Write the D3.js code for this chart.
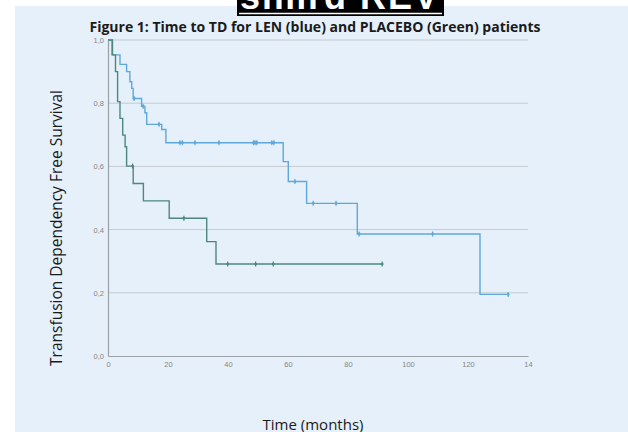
<!DOCTYPE html>
<html>
<head>
<meta charset="utf-8">
<script src="https://cdn.jsdelivr.net/npm/d3@7"></script>
<style>
    body { margin: 0; background: #fff; }
    svg { display: block; }
</style>
</head>
<body>
<div id="km_container"></div>
<script>
// LEN (blue) arm: event times (months) and survival after each step
var lenTimes = [0, 1.3, 4.0, 6.2, 7.3, 7.9, 8.4, 11.2, 12.3, 12.9, 17.9, 19.3, 58.4, 60.1, 66.2, 83.1, 124.0];
var lenSurvival = [1.0, 0.953, 0.923, 0.90, 0.868, 0.847, 0.815, 0.79, 0.77, 0.733, 0.717, 0.675, 0.615, 0.552, 0.483, 0.386, 0.195];
var lenCensored = [8.7, 11.7, 17.0, 24.0, 24.8, 29.0, 37.0, 48.5, 49.0, 49.6, 54.6, 55.3, 62.3, 68.4, 76.0, 83.7, 108.2, 133.4];

// PLACEBO (green) arm
var placeboTimes = [0, 1.5, 2.5, 3.2, 4.0, 4.9, 5.7, 6.2, 8.4, 11.8, 20.4, 32.9, 36.0];
var placeboSurvival = [1.0, 0.953, 0.90, 0.805, 0.752, 0.699, 0.662, 0.601, 0.546, 0.491, 0.436, 0.362, 0.291];
var placeboCensored = [8.2, 25.3, 39.9, 49.2, 55.1, 91.4];

var xTicks = [0, 20, 40, 60, 80, 100, 120, 140];
var yTicks = [0, 0.2, 0.4, 0.6, 0.8, 1.0];

function draw_km_chart() {
    var width = 628, height = 432;
    var plot = {left: 108, right: 528, top: 40, bottom: 356};

    var x = d3.scaleLinear().domain([0, 140]).range([plot.left, plot.right]);
    var y = d3.scaleLinear().domain([0, 1]).range([plot.bottom, plot.top]);

    var svg = d3.select("#km_container").append("svg")
        .attr("width", width)
        .attr("height", height);

    // pale blue panel behind everything
    svg.append("rect")
        .attr("x", 15).attr("y", 6)
        .attr("width", width - 15).attr("height", height - 6)
        .attr("fill", "#e5f0fa");

    // stamp at the top, cut off by the edge
    svg.append("rect")
        .attr("x", 237).attr("y", 0)
        .attr("width", 207).attr("height", 16)
        .attr("fill", "#000");
    svg.append("text")
        .attr("x", 340).attr("y", 9)
        .attr("text-anchor", "middle")
        .attr("font-family", "Liberation Sans, Arial, sans-serif")
        .attr("font-weight", "bold")
        .attr("font-size", 36)
        .attr("letter-spacing", 2)
        .attr("fill", "#fff")
        .text("simrd REV");
    svg.append("line")
        .attr("x1", 239).attr("x2", 442)
        .attr("y1", 13.5).attr("y2", 13.5)
        .attr("stroke", "#fff").attr("stroke-width", 1.5);

    svg.append("text")
        .attr("x", 315).attr("y", 32)
        .attr("text-anchor", "middle")
        .attr("font-family", "Open Sans, sans-serif")
        .attr("font-weight", "bold")
        .attr("font-size", 14)
        .attr("fill", "#1a1a1a")
        .text("Figure 1: Time to TD for LEN (blue) and PLACEBO (Green) patients");

    // horizontal grid lines
    svg.append("g")
        .selectAll("line")
        .data(yTicks.filter(function (d) { return d > 0; }))
        .enter().append("line")
        .attr("x1", plot.left).attr("x2", plot.right)
        .attr("y1", function (d) { return y(d); })
        .attr("y2", function (d) { return y(d); })
        .attr("stroke", "#c6cacd")
        .attr("stroke-width", 1);

    var yAxis = svg.append("g")
        .attr("transform", "translate(" + plot.left + ",0)")
        .call(d3.axisLeft(y).tickValues(yTicks).tickSize(0).tickPadding(4)
            .tickFormat(function (d) { return d3.format(".1f")(d).replace(".", ","); }));
    var xAxis = svg.append("g")
        .attr("transform", "translate(0," + plot.bottom + ")")
        .call(d3.axisBottom(x).tickValues(xTicks).tickSize(0).tickPadding(6)
            .tickFormat(function (d) { return d === 140 ? "14" : d; }));

    [xAxis, yAxis].forEach(function (ax) {
        ax.select(".domain").attr("stroke", "#9ca1a5").attr("stroke-width", 1.2);
        ax.selectAll("text")
            .attr("font-family", "Liberation Sans, Arial, sans-serif")
            .attr("font-size", 7.5)
            .attr("fill", "#858585");
    });

    svg.append("text")
        .attr("transform", "translate(62,228) rotate(-90)")
        .attr("text-anchor", "middle")
        .attr("font-family", "Open Sans, sans-serif")
        .attr("font-size", 15.5)
        .attr("fill", "#1a1a1a")
        .text("Transfusion Dependency Free Survival");

    svg.append("text")
        .attr("x", 313).attr("y", 430)
        .attr("text-anchor", "middle")
        .attr("font-family", "Open Sans, sans-serif")
        .attr("font-size", 15)
        .attr("fill", "#1a1a1a")
        .text("Time (months)");

    plotArm(svg, x, y, lenTimes, lenSurvival, lenCensored, "#5ea8dd");
    plotArm(svg, x, y, placeboTimes, placeboSurvival, placeboCensored, "#4c887d");
}

function survivalAt(times, surv, t) {
    var s = surv[0];
    for (var i = 0; i < times.length; i++) {
        if (times[i] <= t) s = surv[i];
    }
    return s;
}

function plotArm(svg, x, y, times, surv, censored, color) {
    var lastTime = Math.max(times[times.length - 1], d3.max(censored));
    var pts = times.map(function (t, i) { return [t, surv[i]]; });
    pts.push([lastTime, surv[surv.length - 1]]);

    var line = d3.line()
        .x(function (d) { return x(d[0]); })
        .y(function (d) { return y(d[1]); })
        .curve(d3.curveStepAfter);

    svg.append("path")
        .datum(pts)
        .attr("fill", "none")
        .attr("stroke", color)
        .attr("stroke-width", 1.4)
        .attr("d", line);

    var marks = svg.append("g");
    marks.selectAll("line")
        .data(censored)
        .enter().append("line")
        .attr("x1", function (d) { return x(d); })
        .attr("x2", function (d) { return x(d); })
        .attr("y1", function (d) { return y(survivalAt(times, surv, d)) - 2.5; })
        .attr("y2", function (d) { return y(survivalAt(times, surv, d)) + 2.5; })
        .attr("stroke", color)
        .attr("stroke-width", 1.2);
    marks.selectAll("circle")
        .data(censored)
        .enter().append("circle")
        .attr("cx", function (d) { return x(d); })
        .attr("cy", function (d) { return y(survivalAt(times, surv, d)); })
        .attr("r", 1.4)
        .attr("fill", color);
}

draw_km_chart();
</script>
</body>
</html>
